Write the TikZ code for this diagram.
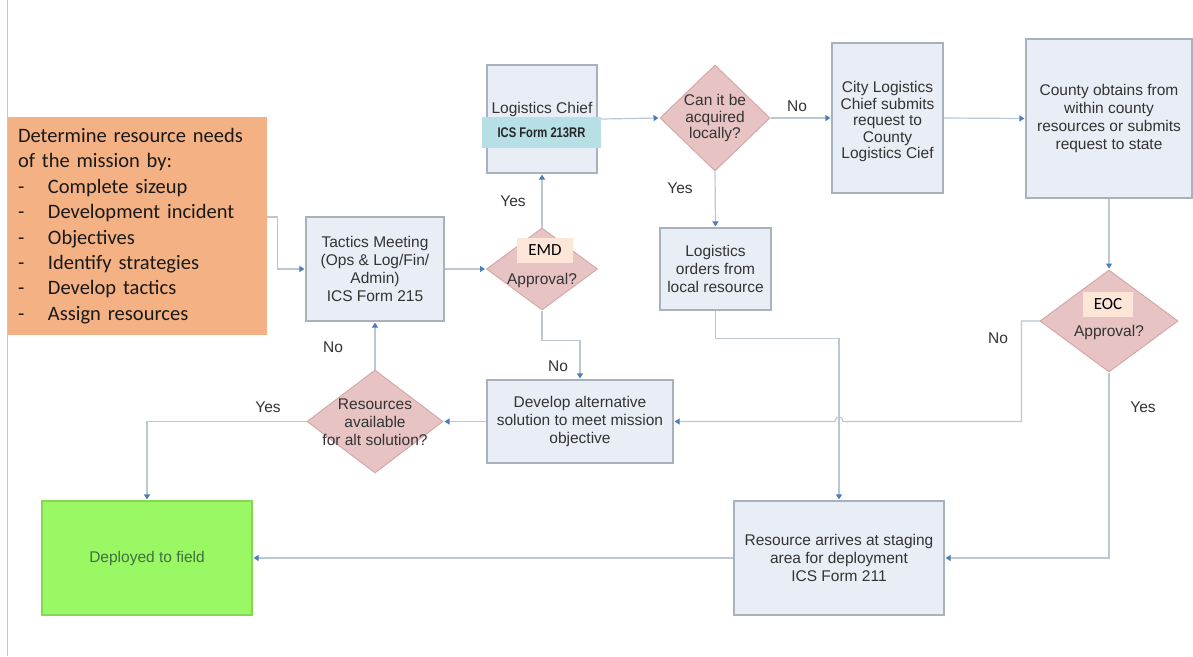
\documentclass[tikz,border=0pt]{standalone}
\usepackage{fontspec}
\setmainfont{Liberation Sans}
\newfontfamily\calib{Carlito}
\newfontfamily\narrowsans[FakeStretch=0.8]{Liberation Sans}
\usetikzlibrary{shapes.geometric,arrows.meta,calc}
\definecolor{boxfill}{HTML}{E9EDF5}
\definecolor{boxline}{HTML}{A9B1BC}
\definecolor{dfill}{HTML}{E8C3C3}
\definecolor{dline}{HTML}{D6A8A8}
\definecolor{lblfill}{HTML}{FDE6D8}
\definecolor{formfill}{HTML}{B6E0E6}
\definecolor{gofill}{HTML}{9AF865}
\definecolor{goline}{HTML}{84D655}
\definecolor{planfill}{HTML}{F4B183}
\definecolor{wire}{HTML}{BCC7D2}
\definecolor{tipblue}{HTML}{4A7DBA}
\definecolor{txt}{HTML}{333333}
\definecolor{edge}{HTML}{C8C8C8}
\begin{document}
\begin{tikzpicture}[x=1pt,y=-1pt,
  every node/.style={font=\fontsize{15.5}{18}\selectfont, text=txt},
  box/.style={draw=boxline, fill=boxfill, line width=1.2pt, align=center, inner sep=0pt},
  dia/.style={diamond, draw=dline, fill=dfill, line width=1pt, inner sep=0pt},
  tag/.style={fill=lblfill, inner sep=0pt, font=\calib\fontsize{17}{20}\selectfont, text=black},
  txtnode/.style={align=center, inner sep=0pt},
  lbl/.style={inner sep=0pt},
  wirestyle/.style={draw=wire, line width=1.2pt, -{Triangle[width=6pt,length=5pt,color=tipblue]}, shorten >=1pt},
  plain/.style={draw=wire, line width=1.2pt}
]
\useasboundingbox (0,0) rectangle (1193,656);
\fill[white] (0,0) rectangle (1193,656);
\draw[edge, line width=1pt] (7.5,0) -- (7.5,656);

% planning box
\node[fill=planfill, minimum width=259pt, minimum height=218pt, inner xsep=10pt, inner ysep=0pt,
      text width=239pt, align=left, font=\calib\fontsize{20.5}{25.4}\selectfont, text=black!90]
  (plan) at (137.5,226) {Determine resource needs\\of the mission by:\\
  \makebox[30pt][l]{-}Complete sizeup\\
  \makebox[30pt][l]{-}Development incident\\
  \makebox[30pt][l]{-}Objectives\\
  \makebox[30pt][l]{-}Identify strategies\\
  \makebox[30pt][l]{-}Develop tactics\\
  \makebox[30pt][l]{-}Assign resources};

% process boxes
\node[box, minimum width=138pt, minimum height=104pt] (tactics) at (375,269)
  {Tactics Meeting\\(Ops \& Log/Fin/\\Admin)\\ICS Form 215};
\node[box, minimum width=110pt, minimum height=108pt] (chief) at (542,119) {};
\node[txtnode] (chieftxt) at (542,109) {Logistics Chief};
\node[fill=formfill, minimum width=119pt, minimum height=31pt, inner sep=0pt,
      font=\narrowsans\bfseries\fontsize{14}{16}\selectfont, text=black!85] (form) at (541.5,132.5) {ICS Form 213RR};
\node[box, minimum width=111pt, minimum height=150pt] (city) at (887.5,118) {};
\node[txtnode, font=\fontsize{15.5}{16.5}\selectfont] (citytxt) at (887.5,121.5) {City Logistics\\Chief submits\\request to\\County\\Logistics Cief};
\node[box, minimum width=166pt, minimum height=159pt] (county) at (1109,118.5)
  {County obtains from\\within county\\resources or submits\\request to state};
\node[box, minimum width=111pt, minimum height=82pt] (local) at (715.5,269)
  {Logistics\\orders from\\local resource};
\node[box, minimum width=186pt, minimum height=83pt] (develop) at (580,421.5)
  {Develop alternative\\solution to meet mission\\objective};
\node[box, minimum width=210pt, minimum height=114pt] (resource) at (839,558)
  {Resource arrives at staging\\area for deployment\\ICS Form 211};
\node[box, draw=goline, fill=gofill, minimum width=210pt, minimum height=114pt, text=green!25!black!75] (deployed) at (147,558)
  {Deployed to field};

% decisions
\node[dia, minimum width=111pt, minimum height=82pt] (emd) at (542,269) {};
\node[tag, minimum width=56pt, minimum height=25pt] (emdtag) at (545,250.5) {EMD};
\node[txtnode] (emdq) at (542,280) {Approval?};
\node[dia, minimum width=110pt, minimum height=106pt] (can) at (715,118) {};
\node[txtnode, font=\fontsize{15.5}{16.5}\selectfont] (canq) at (715,118) {Can it be\\acquired\\locally?};
\node[dia, minimum width=138pt, minimum height=102pt] (eoc) at (1109,321) {};
\node[tag, minimum width=50pt, minimum height=25pt] (eoctag) at (1108,304.5) {EOC};
\node[txtnode] (eocq) at (1109,332) {Approval?};
\node[dia, minimum width=136pt, minimum height=103pt] (avail) at (375,421.5) {};
\node[txtnode] (availq) at (375,422) {Resources\\available\\for alt solution?};

% connectors
\draw[wirestyle] ([yshift=9pt]plan.east) -- ++(10,0) |- (tactics.west);
\draw[wirestyle] (tactics.east) -- (emd.west);
\draw[wirestyle] (emd.north) -- (chief.south);
\draw[wirestyle] (form.east |- chief.east) -- (can.west);
\draw[wirestyle] (can.east) -- (city.west);
\draw[wirestyle] (city.east) -- (county.west);
\draw[wirestyle] (can.south) -- (local.north);
\draw[wirestyle] (local.south) -- ++(0,28) -| (resource.north);
\draw[wirestyle] (county.south) -- (eoc.north);
\coordinate (hopR) at (843,421.5);
\coordinate (hopL) at (835,421.5);
\draw[wirestyle] (eoc.west) -- ++(-18,0) |- (hopR)
  .. controls ++(0,-6) and ++(0,-6) .. (hopL) -- (develop.east);
\draw[wirestyle] (eoc.south) |- (resource.east);
\draw[wirestyle] (emd.south) -- ++(0,30) -| (develop.north);
\draw[wirestyle] (develop.west) -- (avail.east);
\draw[wirestyle] (avail.north) -- (tactics.south);
\draw[wirestyle] (avail.west) -| (deployed.north);
\draw[wirestyle] (resource.west) -- (deployed.east);

% branch labels
\node[lbl] (y1) at (513,201) {Yes};
\node[lbl] (n1) at (797,106) {No};
\node[lbl] (y2) at (680,188) {Yes};
\node[lbl] (n2) at (558,366) {No};
\node[lbl] (n3) at (333,347) {No};
\node[lbl] (y3) at (268,407) {Yes};
\node[lbl] (n4) at (998,338) {No};
\node[lbl] (y4) at (1143,407) {Yes};
\end{tikzpicture}
\end{document}
